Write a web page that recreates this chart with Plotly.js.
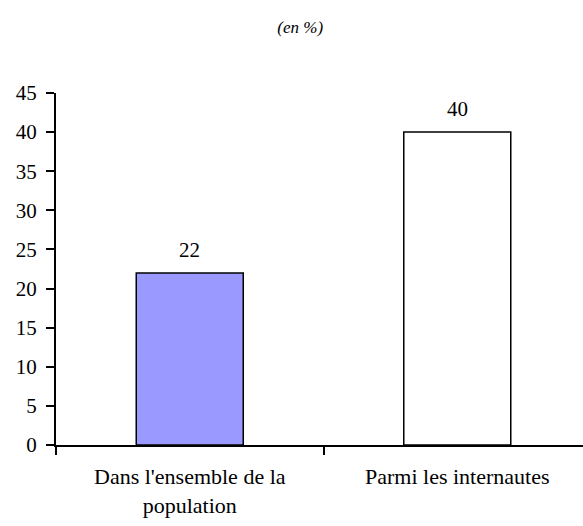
<!DOCTYPE html>
<html>
<head>
<meta charset="utf-8">
<script src="https://cdn.plot.ly/plotly-3.0.1.min.js"></script>
<style>html,body{margin:0;padding:0;background:#fff}#chart{width:583px;height:526px}</style>
</head>
<body>
<div id="chart"></div>
<script>
const categories = ["Dans l'ensemble de la<br>population", "Parmi les internautes"];
const values = [22, 40];
const barColors = ["#9999FF", "#FFFFFF"];
const yTicks = [0, 5, 10, 15, 20, 25, 30, 35, 40, 45];
const titleText = "<i>(en %)</i>";

const fontFam = "Liberation Serif, Times New Roman, serif";

const trace = {
  type: "bar",
  x: categories,
  y: values,
  width: 0.4,
  marker: { color: barColors, line: { color: "#000", width: 1.5 } },
  hoverinfo: "none"
};

const annotations = categories.map((c, i) => ({
  x: c, y: values[i], xref: "x", yref: "y",
  text: String(values[i]), showarrow: false,
  yanchor: "bottom", yshift: 9,
  font: { family: fontFam, size: 21, color: "#000" }
}));

const layout = {
  width: 583, height: 526,
  margin: { l: 56, r: 0, t: 93, b: 81, pad: 0 },
  paper_bgcolor: "#fff", plot_bgcolor: "#fff",
  showlegend: false,
  font: { family: fontFam, size: 21, color: "#000" },
  title: { text: titleText, x: 0.515, xanchor: "center", y: 0.948, yanchor: "middle",
           font: { family: fontFam, size: 17, color: "#000" } },
  xaxis: {
    type: "category", range: [-0.5, 1.47],
    showline: true, linecolor: "#000", linewidth: 2,
    ticks: "outside", tickson: "boundaries", ticklen: 8, tickwidth: 2, tickcolor: "#000",
    showgrid: false, zeroline: false, fixedrange: true,
    ticklabelstandoff: 11,
    tickfont: { family: fontFam, size: 22, color: "#000" }
  },
  yaxis: {
    range: [0, 45], tickvals: yTicks, ticktext: yTicks.map(String),
    showline: true, linecolor: "#000", linewidth: 2,
    ticks: "outside", ticklen: 8, tickwidth: 2, tickcolor: "#000",
    showgrid: false, zeroline: false, fixedrange: true,
    ticklabelstandoff: 5
  },
  annotations: annotations
};

Plotly.newPlot("chart", [trace], layout, { displayModeBar: false, staticPlot: true });
</script>
</body>
</html>
